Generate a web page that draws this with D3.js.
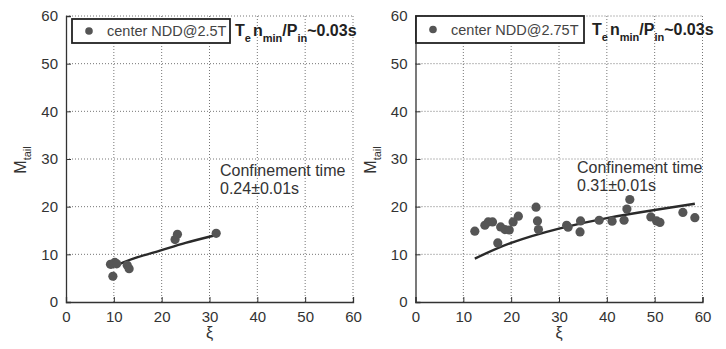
<!DOCTYPE html>
<html>
<head>
<meta charset="utf-8">
<script src="https://cdn.jsdelivr.net/npm/d3@7"></script>
<style>
  body { margin: 0; background: #fff; }
  svg { font-family: "Liberation Sans", Arial, sans-serif; }
</style>
</head>
<body>
<svg id="chart" width="726" height="349"></svg>
<script>
// ticks shared by both panels
var xTicks = [0, 10, 20, 30, 40, 50, 60];
var yTicks = [0, 10, 20, 30, 40, 50, 60];

// left panel: center NDD @ 2.5T
var leftXi = [9.3, 10.2, 10.6, 9.8, 12.8, 13.2, 22.8, 23.3, 31.4];
var leftM  = [7.9, 8.3, 8.0, 5.4, 7.7, 7.0, 13.1, 14.2, 14.4];
var leftFitXi = [9.4, 12, 15, 20, 25, 31.2];
var leftFitM  = [7.2, 8.3, 9.4, 10.9, 12.4, 14.0];

// right panel: center NDD @ 2.75T
var rightXi = [12.4, 14.5, 15.2, 16.1, 17.2, 17.8, 18.7, 19.6, 20.4, 21.5,
  25.2, 25.5, 25.7, 31.6, 31.9, 34.4, 34.5, 38.4, 41.1, 43.6, 44.2, 44.8,
  49.2, 50.4, 51.1, 55.9, 58.4];
var rightM = [14.85, 16.1, 16.8, 16.8, 12.4, 15.75, 15.2, 15.1, 16.8, 18.0,
  19.9, 17.0, 15.2, 16.1, 15.7, 14.7, 17.0, 17.15, 16.95, 17.15, 19.5, 21.5,
  17.85, 17.0, 16.7, 18.8, 17.7];
var rightFitXi = [12.4, 20, 30, 40, 50, 58.4];
var rightFitM  = [9.1, 12.4, 15.4, 17.6, 19.3, 20.6];

var panels = [
  { left: 66, right: 353, xi: leftXi, m: leftM, fitXi: leftFitXi, fitM: leftFitM,
    legend: 'center NDD@2.5T', legendBox: [72, 19, 158, 24], tau: '0.24\u00b10.01s',
    tauX: 220, tauY: 176, titleX: 235, titleY: 36 },
  { left: 415.5, right: 702.5, xi: rightXi, m: rightM, fitXi: rightFitXi, fitM: rightFitM,
    legend: 'center NDD@2.75T', legendBox: [416, 16, 168, 27], tau: '0.31\u00b10.01s',
    tauX: 577, tauY: 173, titleX: 592, titleY: 35 }
];

var svg = d3.select('#chart');
var plotTop = 16, plotBottom = 302;
var ink = '#333';

panels.forEach(function (p) {
  var x = d3.scaleLinear().domain([0, 60]).range([p.left, p.right]);
  var y = d3.scaleLinear().domain([0, 60]).range([plotBottom, plotTop]);
  var g = svg.append('g');

  // dotted grid
  g.selectAll('.gx').data(xTicks.slice(1)).enter().append('line')
    .attr('x1', function (d) { return x(d); }).attr('x2', function (d) { return x(d); })
    .attr('y1', plotTop).attr('y2', plotBottom)
    .attr('stroke', '#666').attr('stroke-width', 0.9).attr('stroke-dasharray', '1,2');
  g.selectAll('.gy').data(yTicks.slice(1)).enter().append('line')
    .attr('x1', p.left).attr('x2', p.right)
    .attr('y1', function (d) { return y(d); }).attr('y2', function (d) { return y(d); })
    .attr('stroke', '#666').attr('stroke-width', 0.9).attr('stroke-dasharray', '1,2');

  // axes
  var xAxis = d3.axisBottom(x).tickValues(xTicks).tickSize(-5).tickPadding(9);
  var yAxis = d3.axisLeft(y).tickValues(yTicks).tickSize(-5).tickPadding(8);
  var gx = g.append('g').attr('transform', 'translate(0,' + plotBottom + ')').call(xAxis);
  var gy = g.append('g').attr('transform', 'translate(' + p.left + ',0)').call(yAxis);
  [gx, gy].forEach(function (a) {
    a.select('.domain').attr('stroke', ink).attr('stroke-width', 1.3);
    a.selectAll('.tick line').attr('stroke', ink);
    a.selectAll('.tick text').attr('fill', ink).style('font-size', '15px')
      .style('font-family', '"Liberation Sans", Arial, sans-serif');
  });

  // axis labels
  var yl = g.append('text')
    .attr('transform', 'translate(' + (p.left - 40) + ',' + 160 + ') rotate(-90)')
    .attr('text-anchor', 'middle').attr('fill', ink).style('font-size', '16px');
  yl.append('tspan').text('M');
  yl.append('tspan').attr('dy', 5).style('font-size', '11px').text('tail');
  g.append('text').attr('x', x(30)).attr('y', 338).attr('text-anchor', 'middle')
    .attr('fill', ink).style('font-size', '16px').text('\u03be');

  // fit line
  var line = d3.line().curve(d3.curveNatural)
    .x(function (d) { return x(d[0]); }).y(function (d) { return y(d[1]); });
  g.append('path').datum(d3.zip(p.fitXi, p.fitM)).attr('d', line)
    .attr('fill', 'none').attr('stroke', '#2a2a2a').attr('stroke-width', 2.4);

  // points
  g.selectAll('.pt').data(d3.zip(p.xi, p.m)).enter().append('circle')
    .attr('cx', function (d) { return x(d[0]); }).attr('cy', function (d) { return y(d[1]); })
    .attr('r', 4.6).attr('fill', '#555');

  // legend box
  var b = p.legendBox;
  g.append('rect').attr('x', b[0]).attr('y', b[1]).attr('width', b[2]).attr('height', b[3])
    .attr('fill', '#fff').attr('stroke', '#222').attr('stroke-width', 1.8);
  g.append('circle').attr('cx', b[0] + 17).attr('cy', b[1] + b[3] / 2).attr('r', 3.8).attr('fill', '#555');
  g.append('text').attr('x', b[0] + 35).attr('y', b[1] + b[3] / 2 + 5)
    .attr('fill', '#444').style('font-size', '14.5px').text(p.legend);

  // title T_e n_min / P_in ~0.03s
  var t = g.append('text').attr('x', p.titleX).attr('y', p.titleY)
    .attr('fill', '#222').style('font-size', '16px').style('font-weight', 'bold');
  t.append('tspan').text('T');
  t.append('tspan').attr('dy', 6).style('font-size', '11px').text('e');
  t.append('tspan').attr('dy', -6).attr('dx', 2).text('n');
  t.append('tspan').attr('dy', 6).style('font-size', '11px').text('min');
  t.append('tspan').attr('dy', -6).text('/P');
  t.append('tspan').attr('dy', 6).style('font-size', '11px').text('in');
  t.append('tspan').attr('dy', -6).text('~0.03s');

  // confinement annotation
  g.append('text').attr('x', p.tauX).attr('y', p.tauY).attr('fill', ink)
    .style('font-size', '16px').text('Confinement time');
  g.append('text').attr('x', p.tauX).attr('y', p.tauY + 18).attr('fill', ink)
    .style('font-size', '16px').text(p.tau);
});
</script>
</body>
</html>
